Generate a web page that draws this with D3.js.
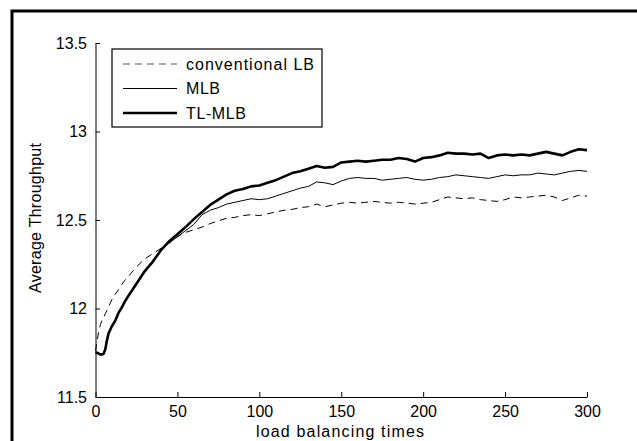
<!DOCTYPE html>
<html>
<head>
<meta charset="utf-8">
<script src="https://cdn.jsdelivr.net/npm/d3@7"></script>
<style>
  body { margin: 0; background: #fff; }
  svg { display: block; font-family: "Liberation Sans", Arial, sans-serif; }
</style>
</head>
<body>
<div id="chart"></div>
<script>
// --- data ---
const steps = [0, 1, 2, 3, 4, 5, 6, 7, 8, 10, 12, 14, 16, 18, 20, 25, 30, 35, 40, 45, 50, 55, 60, 65, 70, 75, 80, 85, 90, 95,
  100, 105, 110, 115, 120, 125, 130, 135, 140, 145, 150, 155, 160, 165, 170, 175, 180, 185, 190, 195,
  200, 205, 210, 215, 220, 225, 230, 235, 240, 245, 250, 255, 260, 265, 270, 275, 280, 285, 290, 295, 300];

const conventionalLB = [11.76, 11.82, 11.87, 11.91, 11.935, 11.95, 11.97, 11.99, 12.01, 12.05, 12.08, 12.105, 12.135, 12.16, 12.18,
  12.235, 12.28, 12.31, 12.34, 12.37, 12.405, 12.43, 12.445, 12.46, 12.48, 12.495, 12.51, 12.515, 12.525, 12.53,
  12.525, 12.535, 12.545, 12.555, 12.56, 12.57, 12.575, 12.59, 12.575, 12.585, 12.595, 12.6, 12.595, 12.6, 12.605,
  12.6, 12.595, 12.6, 12.595, 12.59, 12.595, 12.6, 12.615, 12.63, 12.625, 12.62, 12.625, 12.615, 12.61, 12.605,
  12.615, 12.63, 12.625, 12.63, 12.635, 12.64, 12.63, 12.61, 12.625, 12.64, 12.635];

const mlb = [11.75, 11.75, 11.745, 11.74, 11.745, 11.75, 11.78, 11.83, 11.865, 11.905, 11.935, 11.975, 12.01, 12.045, 12.075,
  12.145, 12.21, 12.27, 12.33, 12.37, 12.405, 12.44, 12.475, 12.53, 12.555, 12.57, 12.59, 12.6, 12.61, 12.62,
  12.615, 12.62, 12.635, 12.65, 12.665, 12.68, 12.69, 12.715, 12.71, 12.7, 12.72, 12.735, 12.74, 12.735, 12.735,
  12.725, 12.73, 12.735, 12.74, 12.73, 12.725, 12.73, 12.74, 12.745, 12.755, 12.75, 12.745, 12.74, 12.735, 12.745,
  12.755, 12.75, 12.755, 12.755, 12.765, 12.76, 12.755, 12.765, 12.775, 12.78, 12.775];

const tlMlb = [11.75, 11.75, 11.745, 11.74, 11.74, 11.745, 11.77, 11.82, 11.86, 11.9, 11.93, 11.975, 12.005, 12.04, 12.07,
  12.14, 12.21, 12.265, 12.33, 12.38, 12.42, 12.46, 12.505, 12.545, 12.585, 12.615, 12.645, 12.665, 12.675, 12.69,
  12.695, 12.71, 12.725, 12.745, 12.765, 12.775, 12.79, 12.805, 12.795, 12.8, 12.825, 12.83, 12.835, 12.83, 12.835,
  12.84, 12.84, 12.85, 12.845, 12.83, 12.85, 12.855, 12.865, 12.88, 12.875, 12.875, 12.87, 12.875, 12.85, 12.865,
  12.87, 12.865, 12.87, 12.865, 12.875, 12.885, 12.875, 12.865, 12.885, 12.9, 12.895];

const seriesNames = ["conventional LB", "MLB", "TL-MLB"];
const xTicks = [0, 50, 100, 150, 200, 250, 300];
const yTicks = [11.5, 12, 12.5, 13, 13.5];

// --- setup ---
const width = 637, height = 441;
const svg = d3.select("#chart").append("svg")
    .attr("width", width).attr("height", height);

// outer frame (left + top edges only are visible)
svg.append("path")
    .attr("d", "M12,441V11H637")
    .attr("fill", "none").attr("stroke", "#000").attr("stroke-width", 3);

const x = d3.scaleLinear().domain([0, 300]).range([95.5, 587]);
const y = d3.scaleLinear().domain([11.5, 13.5]).range([397, 43]);

// --- axes ---
const xAxis = svg.append("g")
    .attr("transform", `translate(0,${y(11.5)})`)
    .call(d3.axisBottom(x).tickValues(xTicks).tickSize(-5).tickSizeOuter(0).tickPadding(9));

const yAxis = svg.append("g")
    .attr("transform", `translate(${x(0)},0)`)
    .call(d3.axisLeft(y).tickValues(yTicks).tickFormat(d => d).tickSize(-4.5).tickSizeOuter(0).tickPadding(8.5));

[xAxis, yAxis].forEach(a => {
    a.selectAll("text").attr("font-size", 16).attr("fill", "#000")
        .attr("font-family", "'Liberation Sans', Arial, sans-serif");
    a.selectAll("line, path").attr("stroke", "#000");
});

// axis titles
svg.append("text")
    .attr("x", 340).attr("y", 437)
    .attr("text-anchor", "middle")
    .attr("font-size", 16)
    .attr("textLength", 168).attr("lengthAdjust", "spacing")
    .text("load balancing times");

svg.append("text")
    .attr("transform", "translate(41,218) rotate(-90)")
    .attr("text-anchor", "middle")
    .attr("font-size", 16)
    .attr("textLength", 150).attr("lengthAdjust", "spacing")
    .text("Average Throughput");

// --- lines ---
const line = d3.line()
    .x((d, i) => x(steps[i]))
    .y(d => y(d));

const styles = [
    { data: conventionalLB, width: 1, dash: "7,5" },
    { data: mlb, width: 1, dash: null },
    { data: tlMlb, width: 2.6, dash: null }
];

svg.append("g").selectAll("path")
    .data(styles)
    .join("path")
    .attr("d", d => line(d.data))
    .attr("fill", "none")
    .attr("stroke", "#000")
    .attr("stroke-width", d => d.width)
    .attr("stroke-dasharray", d => d.dash)
    .attr("stroke-linejoin", "round");

// --- legend ---
const legend = svg.append("g");
legend.append("rect")
    .attr("x", 112).attr("y", 49).attr("width", 210).attr("height", 78)
    .attr("fill", "#fff").attr("stroke", "#000").attr("stroke-width", 1.2);

const rowY = [64, 88.5, 113];
const legendText = [128, 34, 60];
seriesNames.forEach((name, i) => {
    legend.append("line")
        .attr("x1", 123).attr("x2", 177)
        .attr("y1", rowY[i]).attr("y2", rowY[i])
        .attr("stroke", i === 0 ? "#555" : "#000")
        .attr("stroke-width", styles[i].width)
        .attr("stroke-dasharray", styles[i].dash);
    legend.append("text")
        .attr("x", 186).attr("y", rowY[i] + 5.5)
        .attr("font-size", 16)
        .attr("textLength", legendText[i]).attr("lengthAdjust", "spacing")
        .text(name);
});
</script>
</body>
</html>
